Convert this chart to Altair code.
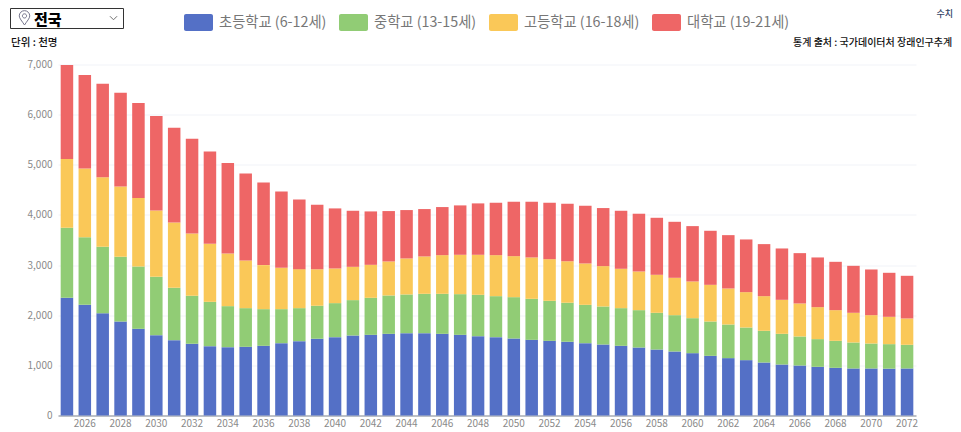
import altair as alt
import pandas as pd

FONT = "Noto Sans CJK KR"

years = list(range(2025, 2073))
names = ["초등학교 (6-12세)", "중학교 (13-15세)", "고등학교 (16-18세)", "대학교 (19-21세)"]
colors = ["#5470c6", "#91cc75", "#fac858", "#ee6666"]
axis_years = [y for y in years if y % 2 == 0]

# Cumulative tops of each stack layer
top_elementary = [2347, 2207, 2041, 1875, 1729, 1602, 1503, 1430, 1383, 1363, 1370, 1390, 1443, 1483, 1529, 1563,
                  1596, 1609, 1629, 1642, 1642, 1629, 1609, 1582, 1563, 1536, 1509, 1489, 1469, 1443, 1416, 1390,
                  1356, 1316, 1277, 1243, 1190, 1144, 1104, 1057, 1017, 997, 971, 951, 938, 938, 934, 938]
top_middle = [3743, 3557, 3364, 3165, 2972, 2766, 2547, 2387, 2267, 2181, 2141, 2121, 2121, 2141, 2187, 2241,
              2301, 2347, 2394, 2414, 2427, 2427, 2420, 2407, 2380, 2360, 2327, 2287, 2247, 2207, 2174, 2141,
              2101, 2048, 2001, 1941, 1875, 1815, 1755, 1689, 1629, 1576, 1523, 1489, 1456, 1436, 1423, 1410]
top_high = [5115, 4927, 4749, 4569, 4337, 4090, 3850, 3630, 3424, 3231, 3092, 2999, 2945, 2919, 2919, 2932,
            2965, 3005, 3072, 3132, 3172, 3198, 3205, 3205, 3198, 3178, 3152, 3118, 3078, 3032, 2979, 2926,
            2872, 2806, 2746, 2673, 2606, 2533, 2460, 2380, 2307, 2234, 2161, 2101, 2048, 2001, 1968, 1935]
top_college = [6990, 6790, 6617, 6437, 6232, 5972, 5739, 5520, 5267, 5034, 4828, 4648, 4469, 4309, 4203, 4130,
               4083, 4070, 4077, 4097, 4117, 4157, 4190, 4230, 4243, 4263, 4263, 4243, 4223, 4183, 4137, 4083,
               4024, 3943, 3863, 3777, 3684, 3597, 3511, 3418, 3331, 3238, 3152, 3065, 2985, 2912, 2846, 2786]

rows = []
tops = [top_elementary, top_middle, top_high, top_college]
for i, name in enumerate(names):
    for j, year in enumerate(years):
        below = tops[i - 1][j] if i else 0
        rows.append({"year": year, "group": name, "idx": i, "value": tops[i][j] - below})
df = pd.DataFrame(rows)

LEFT, TOP, W, H = 50, 56.5, 858, 351

bars = alt.Chart(df).mark_bar().encode(
    x=alt.X("year:O", title=None,
            scale=alt.Scale(paddingInner=0.3, paddingOuter=0.15),
            axis=alt.Axis(values=axis_years, labelAngle=0, ticks=False, grid=False,
                          domainColor="#a9adb5", domainWidth=1.5, labelColor="#8a8a8a",
                          labelFontSize=10, labelPadding=3, labelFont=FONT)),
    y=alt.Y("value:Q", title=None, stack="zero",
            scale=alt.Scale(domain=[0, 7000], nice=False),
            axis=alt.Axis(values=list(range(0, 7001, 1000)), format=",.0f", ticks=False, domain=False,
                          gridColor="#f1f3f8", gridWidth=1, labelColor="#8a8a8a",
                          labelFontSize=10, labelPadding=6, labelFont=FONT)),
    color=alt.Color("group:N", title=None,
                    scale=alt.Scale(domain=names, range=colors),
                    sort=names,
                    legend=alt.Legend(orient="none", legendX=184 - 58, legendY=8 - 64.5,
                                      direction="horizontal", columns=4, gridAlign="none",
                                      symbolType="M-1,-0.45 A0.14,0.14 0 0 1 -0.86,-0.59 L0.86,-0.59 A0.14,0.14 0 0 1 1,-0.45 L1,0.45 A0.14,0.14 0 0 1 0.86,0.59 L-0.86,0.59 A0.14,0.14 0 0 1 -1,0.45 Z",
                                      symbolSize=841, symbolStrokeWidth=0, symbolOpacity=1,
                                      labelFontSize=14.3, labelColor="#777777", labelFont=FONT,
                                      labelOffset=6, columnPadding=12, padding=0, labelLimit=200)),
    order=alt.Order("idx:Q"),
)

one = alt.Data(values=[{}])


def label(text, px, py, size, align="left", color="#111111", weight=500):
    return alt.Chart(one).mark_text(text=text, align=align, baseline="middle", fontSize=size,
                                    font=FONT, color=color, fontWeight=weight).encode(
        x=alt.value(px - 58), y=alt.value(py - 64.5))


box = alt.Chart(one).mark_rect(fill="white", stroke="#333333", strokeWidth=1).encode(
    x=alt.value(10.5 - 58), x2=alt.value(123.5 - 58), y=alt.value(8.5 - 64.5), y2=alt.value(28.5 - 64.5))
pin = alt.Chart(one).mark_point(
    shape="M0,1 C-0.35,0.45 -0.75,0.05 -0.75,-0.3 A0.75,0.75 0 1 1 0.75,-0.3 C0.75,0.05 0.35,0.45 0,1 Z M0.3,-0.3 A0.3,0.3 0 1 0 -0.3,-0.3 A0.3,0.3 0 1 0 0.3,-0.3 Z",
    size=196, filled=False, stroke="#3b3b5c", strokeWidth=1).encode(
    x=alt.value(24.5 - 58), y=alt.value(18 - 64.5))
chevron = alt.Chart(one).mark_point(shape="M-1,-0.5 L0,0.5 L1,-0.5", size=50, filled=False,
                                    stroke="#333333", strokeWidth=1).encode(
    x=alt.value(113.5 - 58), y=alt.value(18 - 64.5))

chart = alt.layer(
    bars, box, pin, chevron,
    label("전국", 34, 20, 15, color="#000000", weight=900),
    label("단위 : 천명", 11, 43, 10.5),
    label("통계 출처 : 국가데이터처 장래인구추계", 793, 43, 10),
    label("수치", 953, 14, 9, align="right", color="#334466"),
).properties(
    width=W, height=H,
    autosize=alt.AutoSizeParams(type="none"),
    padding={"left": LEFT, "top": TOP, "right": 37, "bottom": 16},
).configure_view(stroke=None)

chart.save("out.html", embed_options={"renderer": "svg", "actions": False})
